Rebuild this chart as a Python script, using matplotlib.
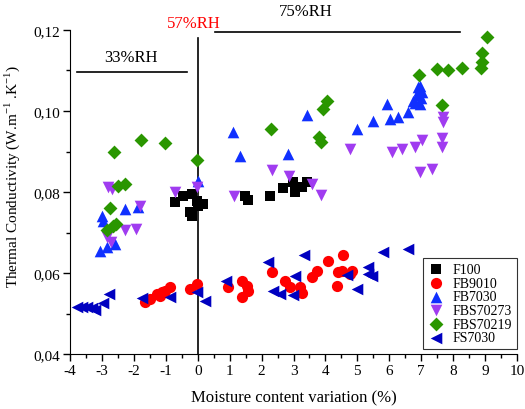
import matplotlib
matplotlib.use("Agg")
import matplotlib.pyplot as plt
from matplotlib.ticker import MultipleLocator, FuncFormatter

plt.rcParams['font.family'] = ['Liberation Serif', 'DejaVu Serif']
plt.rcParams['mathtext.fontset'] = 'custom'
plt.rcParams['mathtext.rm'] = 'Liberation Serif'

# F100
f100_x = [-0.71, -0.45, -0.19, -0.03, 0.17, -0.24, -0.19, 0.02, 1.48, 1.58, 2.26, 2.68, 2.99, 3.05, 3.26, 3.41]
f100_y = [0.0775, 0.0791, 0.0795, 0.0779, 0.0770, 0.0750, 0.0740, 0.0766, 0.0791, 0.0781, 0.0789, 0.0809, 0.0824, 0.0799, 0.0812, 0.0824]
# FB9010
fb9010_x = [-1.65, -1.49, -1.28, -1.13, -1.02, -0.87, -1.18, -0.24, -0.03, 0.96, 1.38, 1.53, 1.58, 1.38,
            2.32, 2.73, 2.89, 3.20, 3.26, 3.57, 3.73, 4.09, 4.40, 4.51, 4.35, 4.77, 4.82, 4.56]
fb9010_y = [0.0528, 0.0536, 0.0548, 0.0552, 0.0556, 0.0565, 0.0544, 0.0560, 0.0573, 0.0565, 0.0581, 0.0569, 0.0556, 0.0540,
            0.0602, 0.0581, 0.0565, 0.0565, 0.0551, 0.0589, 0.0606, 0.0630, 0.0602, 0.0606, 0.0567, 0.0598, 0.0606, 0.0644]
# FB7030
fb7030_x = [-3.01, -2.96, -2.28, -1.86, -3.06, -2.85, -2.59, 0.02, 1.10, 1.32, 2.84, 3.41, 4.98, 5.50, 5.94, 6.02,
            6.28, 6.59, 6.75, 6.80, 6.87, 6.93, 6.96, 6.99, 7.02, 6.96, 6.90]
fb7030_y = [0.0741, 0.0729, 0.0758, 0.0762, 0.0655, 0.0663, 0.0672, 0.0828, 0.0949, 0.0890, 0.0894, 0.0990, 0.0956, 0.0976, 0.1017, 0.0980,
            0.0986, 0.0997, 0.1025, 0.1020, 0.1040, 0.1052, 0.1062, 0.1032, 0.1047, 0.1017, 0.1059]
# FBS70273
fbs70273_x = [-2.80, -2.69, -1.81, -2.28, -1.92, -2.84, -2.73, -0.71, -0.03, 1.14, 2.32, 2.85, 3.58, 3.87,
              4.78, 6.07, 6.39, 6.80, 7.01, 7.64, 7.64, 7.67, 7.67, 6.96, 7.33]
fbs70273_y = [0.0812, 0.0807, 0.0766, 0.0707, 0.0709, 0.0690, 0.0676, 0.0799, 0.0812, 0.0790, 0.0854, 0.0840, 0.0820, 0.0792,
              0.0905, 0.0899, 0.0907, 0.0911, 0.0928, 0.0933, 0.0912, 0.0984, 0.0972, 0.0849, 0.0857]
# FBS70219
fbs70219_x = [-2.61, -1.78, -1.02, -0.01, -2.49, -2.28, -2.75, -2.85, -2.55, -2.65, 2.29, 3.81, 3.85, 3.93, 4.04,
              6.93, 7.48, 7.85, 8.27, 8.86, 8.89, 8.89, 9.05, 7.66]
fbs70219_y = [0.0900, 0.0928, 0.0921, 0.0880, 0.0816, 0.0820, 0.0760, 0.0706, 0.0721, 0.0715, 0.0956, 0.0935, 0.0924, 0.1005, 0.1025,
              0.1089, 0.1104, 0.1101, 0.1105, 0.1106, 0.1122, 0.1143, 0.1182, 0.1015]
# FS7030
fs7030_x = [-3.79, -3.63, -3.48, -3.32, -3.22, -2.98, -2.78, -1.75, -0.87, -0.03, 0.23, 0.89, 2.21, 2.37, 2.58, 2.99,
            3.05, 3.32, 4.67, 5.00, 5.32, 5.34, 5.47, 5.81, 6.60]
fs7030_y = [0.0515, 0.0515, 0.0515, 0.0514, 0.0509, 0.0525, 0.0549, 0.0538, 0.0540, 0.0552, 0.0531, 0.0580, 0.0626, 0.0556, 0.0549, 0.0545,
            0.0593, 0.0645, 0.0595, 0.0560, 0.0614, 0.0598, 0.0593, 0.0653, 0.0660]

series = [
    ("F100", f100_x, f100_y, 's', '#000000', 50),
    ("FB9010", fb9010_x, fb9010_y, 'o', '#ff0000', 65),
    ("FB7030", fb7030_x, fb7030_y, '^', '#1030ff', 70),
    ("FBS70273", fbs70273_x, fbs70273_y, 'v', '#a03cf0', 70),
    ("FBS70219", fbs70219_x, fbs70219_y, 'D', '#2a9600', 50),
    ("FS7030", fs7030_x, fs7030_y, '<', '#0000c0', 70),
]

fig = plt.figure(figsize=(5.25, 4.10), dpi=100)
ax = fig.add_axes([0.1333, 0.1341, 0.8515, 0.7903])

for name, xs, ys, m, c, s in series:
    ax.scatter(xs, ys, marker=m, color=c, s=s, linewidths=0, label=name, zorder=3)

ax.set_xlim(-4, 10)
ax.set_ylim(0.04, 0.12)
ax.spines['top'].set_visible(False)
ax.spines['right'].set_visible(False)
ax.xaxis.set_major_locator(MultipleLocator(1))
ax.xaxis.set_minor_locator(MultipleLocator(0.5))
ax.yaxis.set_major_locator(MultipleLocator(0.02))
ax.yaxis.set_minor_locator(MultipleLocator(0.01))
ax.yaxis.set_major_formatter(FuncFormatter(lambda v, p: f"{v:.2f}".replace('.', ',')))
ax.xaxis.set_major_formatter(FuncFormatter(lambda v, p: f"{int(round(v))}"))
ax.tick_params(which='major', direction='out', length=5, width=1, labelsize=11, pad=2)
ax.tick_params(which='minor', direction='out', length=3, width=1)

ax.set_xlabel("Moisture content variation (%)", fontsize=12)
ax.xaxis.set_label_coords(0.5, -0.108)
ax.set_ylabel(r"Thermal Conductivity (W.m$^{-1}$ .K$^{-1}$)", fontsize=11)
ax.yaxis.set_label_coords(-0.107, 0.55)

# annotations
ax.plot([-3.78, -0.33], [0.1096, 0.1096], color='black', lw=1.2, clip_on=False)
ax.text(-2.1, 0.1113, "33%RH", ha='center', va='bottom', fontsize=12)
ax.plot([0.0, 0.0], [0.04, 0.118], color='black', lw=1.2, clip_on=False)
ax.text(-0.13, 0.1198, "57%RH", ha='center', va='bottom', fontsize=12, color='red')
ax.plot([0.54, 8.22], [0.1194, 0.1194], color='black', lw=1.2, clip_on=False)
ax.text(3.37, 0.1228, "75%RH", ha='center', va='bottom', fontsize=12)

leg = ax.legend(loc='lower right', bbox_to_anchor=(1.0, 0.015), borderaxespad=0, fontsize=10,
                frameon=True, fancybox=False, edgecolor='black', handletextpad=0.6, borderpad=0.35,
                labelspacing=0.05, handlelength=1.2, scatterpoints=1)
leg.get_frame().set_linewidth(0.8)

fig.savefig("out.png", dpi=100)
